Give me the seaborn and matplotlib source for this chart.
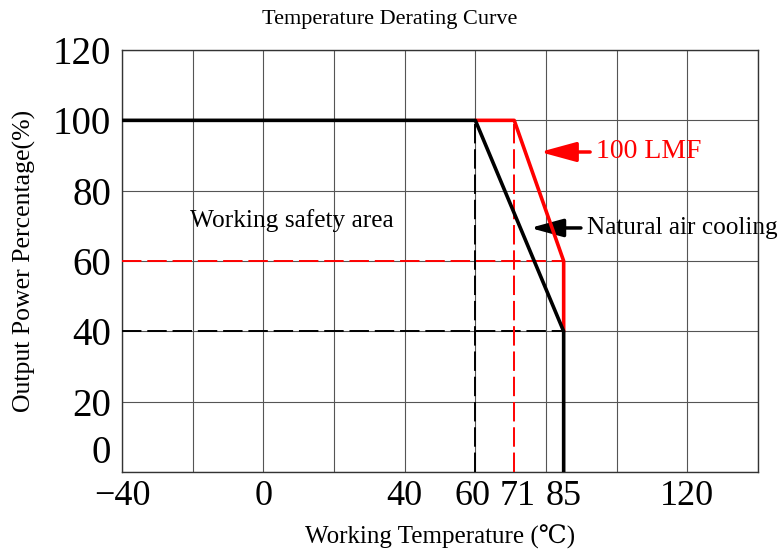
import seaborn as sns
import matplotlib.pyplot as plt
import matplotlib.transforms as mtransforms
import pandas as pd
from matplotlib.ticker import MultipleLocator

# derating curves (temperature C, output power %)
natural_x = [-40, 60, 85, 85]
natural_y = [100, 100, 40, 0]
lmf_x = [60, 71, 85, 85]
lmf_y = [100, 100, 60, 40]

# guide lines
guide_h = [60, 40]          # output % levels
guide_h_colors = ["red", "black"]
guide_v = [60, 71]          # temperatures
guide_v_colors = ["black", "red"]

xticks = [-40, 0, 40, 60, 71, 85, 120]
yticks = [0, 20, 40, 60, 80, 100, 120]

sns.set_style("white")
plt.rcParams['font.family'] = ['Liberation Serif', 'DejaVu Serif']
plt.rcParams['text.color'] = 'black'
plt.rcParams['axes.labelcolor'] = 'black'
plt.rcParams['xtick.color'] = 'black'
plt.rcParams['ytick.color'] = 'black'

fig = plt.figure(figsize=(7.8, 5.57), dpi=100)
ax = fig.add_axes([0.1564, 0.1526, 0.8154, 0.7576])

df_nat = pd.DataFrame({"t": natural_x, "p": natural_y})
df_lmf = pd.DataFrame({"t": lmf_x, "p": lmf_y})

for lvl, c in zip(guide_h, guide_h_colors):
    ax.hlines(lvl, -40, 85, colors=c, linestyles=(0, (10, 3)), lw=1.4, zorder=3)
for t, c in zip(guide_v, guide_v_colors):
    ax.vlines(t, 0, 100, colors=c, linestyles=(0, (10, 3)), lw=1.4, zorder=3)

sns.lineplot(data=df_lmf, x="t", y="p", sort=False, estimator=None, color="red", lw=2.6, ax=ax, zorder=4)
sns.lineplot(data=df_nat, x="t", y="p", sort=False, estimator=None, color="black", lw=2.6, ax=ax, zorder=5)

ax.set_xlim(-40, 140)
ax.set_ylim(0, 120)
ax.set_xticks(xticks)
ax.set_xticklabels(["\u221240" if v == -40 else str(v) for v in xticks])
ax.set_yticks(yticks)
ax.xaxis.set_minor_locator(MultipleLocator(20))
ax.xaxis.remove_overlapping_locs = False
ax.grid(False)
ax.grid(axis="x", which="minor", color="#555555", lw=0.8)
ax.grid(axis="y", which="major", color="#555555", lw=0.8)
ax.set_axisbelow(True)
ax.tick_params(axis="both", which="both", length=0, labelsize=28)
ax.tick_params(axis="x", pad=6, labelsize=26)
ax.tick_params(axis="y", pad=8)
ax.get_yticklabels()[0].set_va("bottom")
# nudge the crowded 60 / 71 labels apart a little
for lab, dx in zip(ax.get_xticklabels()[3:5], [-3, 3]):
    lab.set_transform(lab.get_transform() + mtransforms.ScaledTranslation(dx / 100, 0, fig.dpi_scale_trans))
for s in ax.spines.values():
    s.set_color("#333333")
    s.set_linewidth(1.0)

ax.set_xlabel("Working Temperature (\u2103)", fontsize=18, labelpad=8)
ax.set_ylabel("Output Power Percentage(%)", fontsize=18.5, labelpad=12)
fig.text(0.5, 0.965, "Temperature Derating Curve", ha="center", va="center", fontsize=16)

arrow_style = "-|>,head_length=1.1,head_width=0.3"
ax.annotate("100 LMF", xy=(78.3, 91), xytext=(94.2, 91), color="red", fontsize=20,
            va="center", ha="left",
            arrowprops=dict(arrowstyle=arrow_style, color="red", lw=2.5, shrinkA=2, shrinkB=0))
ax.annotate("Natural air cooling", xy=(75.5, 69.4), xytext=(91.6, 69.4), color="black",
            fontsize=18.2, va="center", ha="left", annotation_clip=False,
            arrowprops=dict(arrowstyle=arrow_style, color="black", lw=2.5, shrinkA=2, shrinkB=0))
ax.text(-20.8, 71.6, "Working safety area", fontsize=18.3, va="center", ha="left")

fig.savefig("out.png", dpi=100)
